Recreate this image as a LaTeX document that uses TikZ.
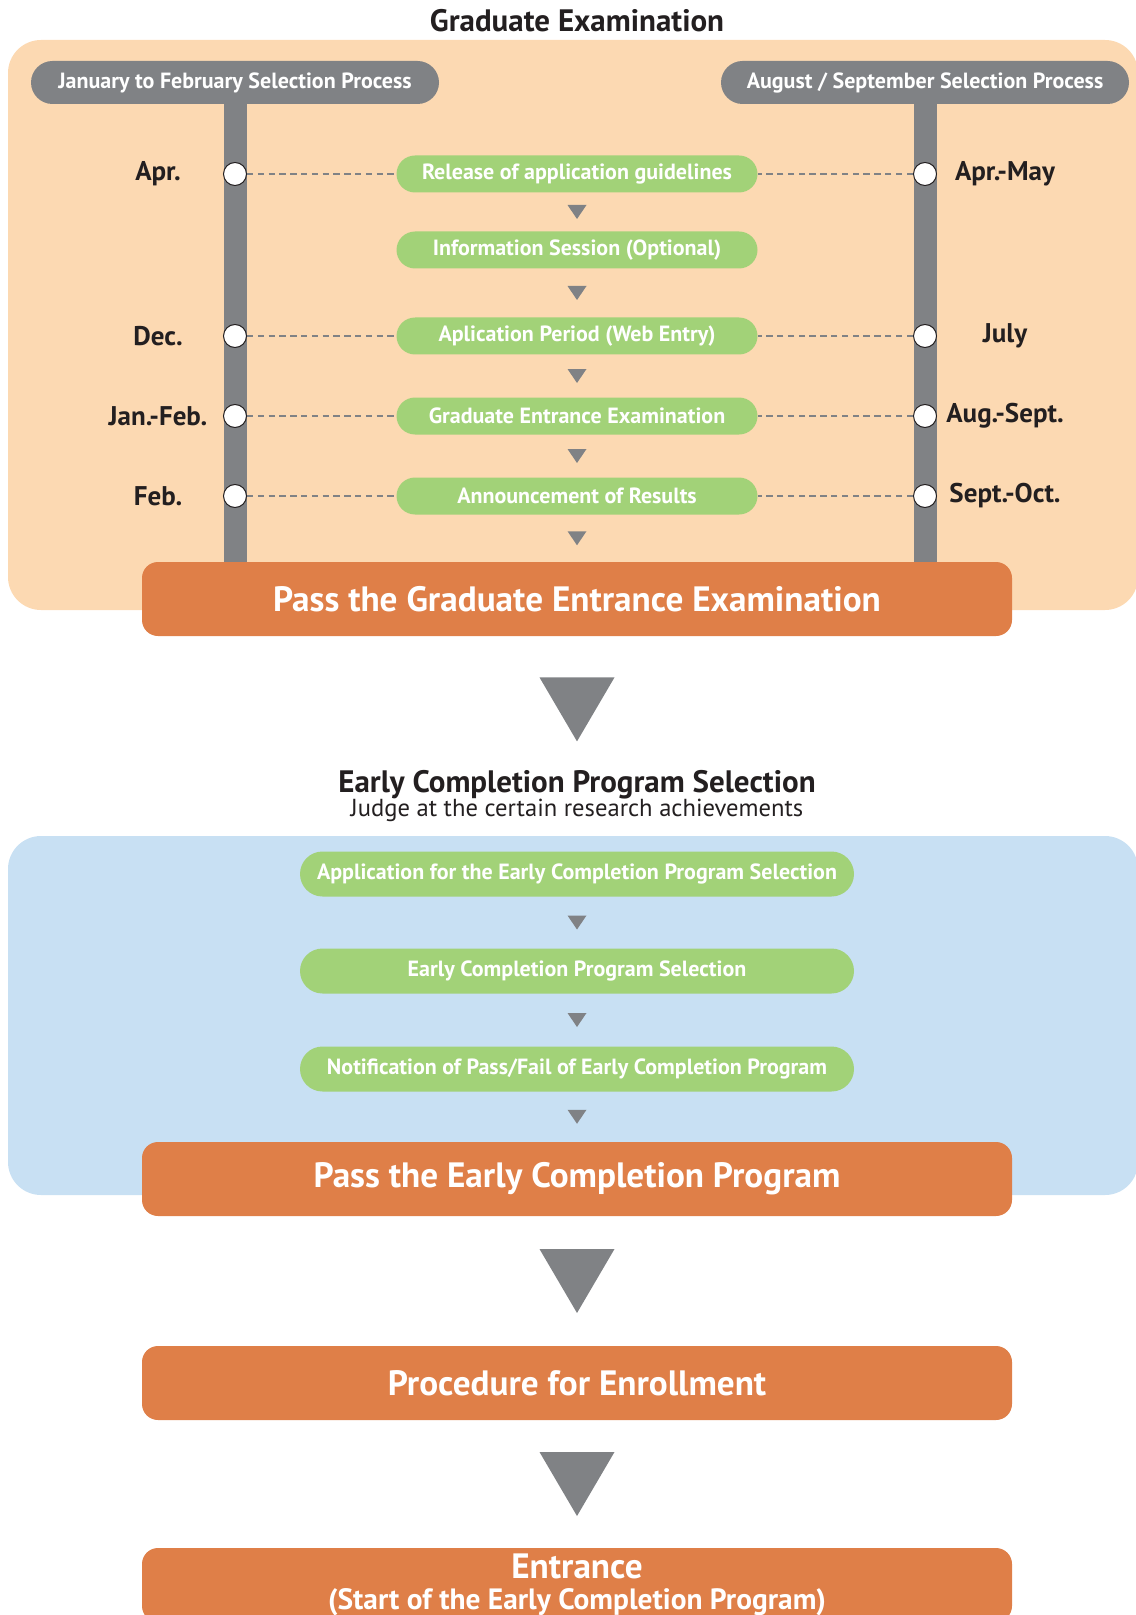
\documentclass[tikz,border=0pt]{standalone}
\usepackage{fontspec}
\setmainfont{PT Sans}
\usetikzlibrary{calc}

\definecolor{peach}{HTML}{FCD9B2}
\definecolor{skyblue}{HTML}{C8E0F3}
\definecolor{barg}{HTML}{808285}
\definecolor{leaf}{HTML}{A2D278}
\definecolor{rust}{HTML}{DF7F48}
\definecolor{ink}{HTML}{231F20}

\begin{document}
\begin{tikzpicture}[
        x=0.5pt, y=-0.5pt,
        smalltri/.pic={\fill[barg] (-9.5,-7) -- (9.5,-7) -- (0,7) -- cycle;},
        bigtri/.pic={\fill[barg] (-37.5,-32) -- (37.5,-32) -- (0,32) -- cycle;}
    ]

    \tikzstyle{every node}=[text=ink, font=\bfseries]
    \tikzstyle{header}=[fill=barg, text=white, rounded corners=10.75pt, minimum width=204pt, minimum height=21.5pt, font=\bfseries\fontsize{11}{13}\selectfont]
    \tikzstyle{greenbox}=[fill=leaf, text=white, rounded corners=9.25pt, minimum width=180.5pt, minimum height=18.5pt, inner sep=0pt, font=\bfseries\fontsize{11}{13}\selectfont]
    \tikzstyle{widebox}=[greenbox, rounded corners=11.25pt, minimum width=277pt, minimum height=22.5pt]
    \tikzstyle{passbox}=[fill=rust, text=white, rounded corners=8pt, minimum width=435pt, minimum height=37pt, inner sep=0pt, font=\bfseries\fontsize{17.6}{18}\selectfont]
    \tikzstyle{dot}=[circle, draw=ink, line width=0.5pt, fill=white, minimum size=11.5pt, inner sep=0pt]
    \tikzstyle{month}=[font=\bfseries\fontsize{13.5}{15}\selectfont]
    \tikzstyle{title}=[inner sep=0pt, font=\bfseries\fontsize{15.5}{17}\selectfont]
    \tikzstyle{bar}=[barg, line width=11.5pt]
    \tikzstyle{dashline}=[barg, line width=1pt, dash pattern=on 3.2pt off 2.2pt]

    \useasboundingbox (0,0) rectangle (1135,1615);

    % panels
    \fill[peach, rounded corners=16.5pt] (8,40) rectangle (1138,610);
    \fill[skyblue, rounded corners=16.5pt] (8,836) rectangle (1138,1195);

    % graduate examination
    \node[title] (title1) at (577,21) {Graduate Examination};

    \node[header] (janfeb) at (235,82.5) {January to February Selection Process};
    \node[header] (augsep) at (925,82.5) {August / September Selection Process};

    \node[passbox] (pass1) at (577,599) {Pass the Graduate Entrance Examination};

    \draw[bar] (janfeb.south) -- (janfeb.south |- pass1.north);
    \draw[bar] (augsep.south) -- (augsep.south |- pass1.north);

    \node[greenbox] (g1) at (577,174) {Release of application guidelines};
    \node[greenbox] (g2) at (577,250) {Information Session (Optional)};
    \node[greenbox] (g3) at (577,336) {Aplication Period (Web Entry)};
    \node[greenbox] (g4) at (577,416) {Graduate Entrance Examination};
    \node[greenbox] (g5) at (577,496) {Announcement of Results};

    \coordinate (lx) at (158,0);
    \coordinate (rx) at (1005,0);

    \foreach \g/\l/\r in {g1/Apr./Apr.-May, g3/Dec./July, g4/Jan.-Feb./Aug.-Sept., g5/Feb./Sept.-Oct.} {
        \node[dot] (\g l) at (janfeb.south |- \g) {};
        \node[dot] (\g r) at (augsep.south |- \g) {};
        \node[month] at (lx |- \g) {\l};
        \node[month] at (rx |- \g) {\r};
        \draw[dashline] (\g l) -- (\g);
        \draw[dashline] (\g r) -- (\g);
    }

    \foreach \a/\b in {g1/g2, g2/g3, g3/g4, g4/g5, g5/pass1}
        \pic at ($(\a.south)!.5!(\b.north)$) {smalltri};

    \pic at ($(pass1.south)+(0,73)$) {bigtri};

    % early completion program
    \node[title, align=center, font=\bfseries\fontsize{15.5}{12}\selectfont] (title2) at (577,796)
        {Early Completion Program Selection\\{\mdseries\fontsize{12.3}{12}\selectfont Judge at the certain research achievements}};

    \node[widebox] (e1) at (577,874) {Application for the Early Completion Program Selection};
    \node[widebox] (e2) at (577,971) {Early Completion Program Selection};
    \node[widebox] (e3) at (577,1069) {Notification of Pass/Fail of Early Completion Program};

    \node[passbox] (pass2) at (577,1179) {Pass the Early Completion Program};

    \foreach \a/\b in {e1/e2, e2/e3, e3/pass2}
        \pic at ($(\a.south)!.5!(\b.north)$) {smalltri};

    \node[passbox] (enrol) at (577,1383) {Procedure for Enrollment};
    \node[passbox, align=center, font=\bfseries\fontsize{17.6}{15.5}\selectfont] (entry) at (577,1585)
        {Entrance\\{\fontsize{14.7}{15.5}\selectfont(Start of the Early Completion Program)}};

    \pic at ($(pass2.south)!.5!(enrol.north)$) {bigtri};
    \pic at ($(enrol.south)!.5!(entry.north)$) {bigtri};

\end{tikzpicture}
\end{document}
